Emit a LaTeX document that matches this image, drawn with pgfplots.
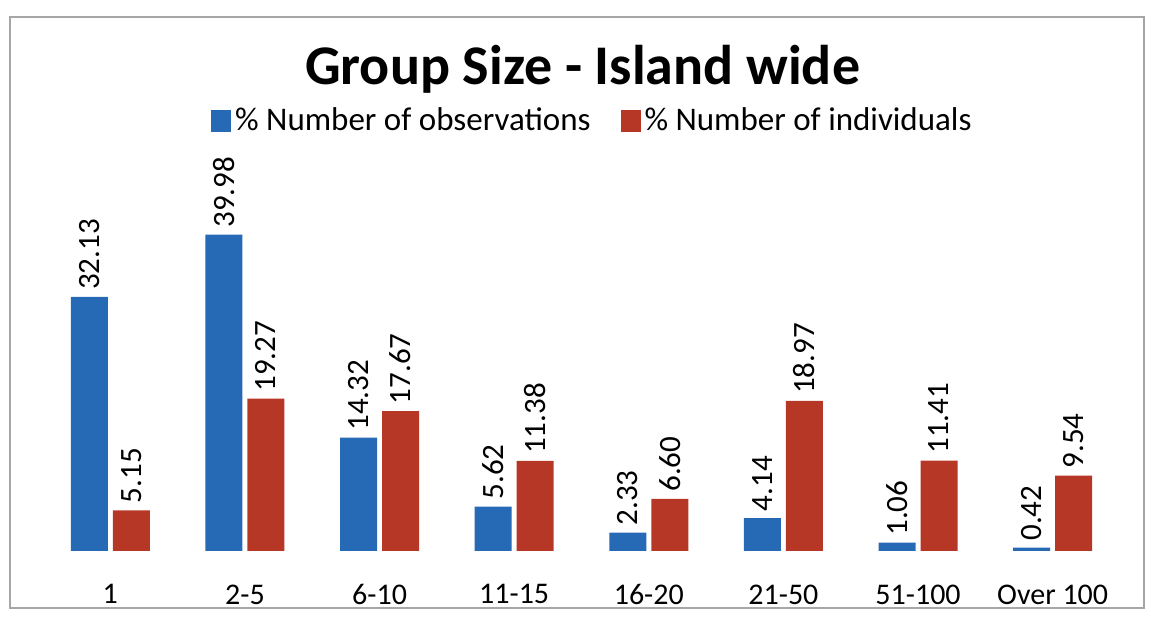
\documentclass[border=0pt]{standalone}
\usepackage{pgfplots}
\pgfplotsset{compat=1.18}
\usepackage{fontspec}
\setmainfont{Carlito}
\definecolor{obsblue}{RGB}{38,106,182}
\definecolor{indred}{RGB}{183,55,38}

\begin{document}
\begin{tikzpicture}[x=1pt,y=1pt]
\path[use as bounding box] (0,0) rectangle (575.5,312.5);
\draw[gray!70, line width=0.8pt] (5,8.5) rectangle (572,304);
\begin{axis}[
  at={(21.5pt,37pt)}, anchor=south west,
  scale only axis, width=538.5pt, height=178pt,
  ybar=2.5pt, bar width=18.5pt,
  xmin=-0.5, xmax=7.5, ymin=0, ymax=45,
  hide y axis,
  axis x line*=bottom,
  x axis line style={draw=none},
  xtick={0,...,7}, xtick style={draw=none},
  xticklabels={1,2-5,6-10,11-15,16-20,21-50,51-100,Over 100},
  xticklabel style={font=\fontsize{15}{17}\selectfont, yshift=-9pt},
  /pgf/number format/fixed,
  /pgf/number format/fixed zerofill,
  /pgf/number format/precision=2,
  /pgf/number format/assume math mode=true,
  nodes near coords,
  nodes near coords style={rotate=90, anchor=west, font=\fontsize{15.5}{17}\selectfont},
  title={Group Size - Island wide},
  title style={font=\bfseries\fontsize{28}{32}\selectfont, at={(0.501,1.32)}, anchor=center},
  legend style={at={(0.511,1.208)}, anchor=center, draw=none, legend columns=2,
    font=\fontsize{16.5}{19}\selectfont,
    /tikz/every even column/.append style={column sep=13pt}},
  legend image code/.code={\fill[#1] (0pt,-5.5pt) rectangle (10pt,5.5pt);},
]
\addplot[fill=obsblue, draw=none] coordinates {(0,32.13) (1,39.98) (2,14.32) (3,5.62) (4,2.33) (5,4.14) (6,1.06) (7,0.42)};
\addlegendentry{\% Number of observations}
\addplot[fill=indred, draw=none] coordinates {(0,5.15) (1,19.27) (2,17.67) (3,11.38) (4,6.60) (5,18.97) (6,11.41) (7,9.54)};
\addlegendentry{\% Number of individuals}
\end{axis}
\end{tikzpicture}
\end{document}
